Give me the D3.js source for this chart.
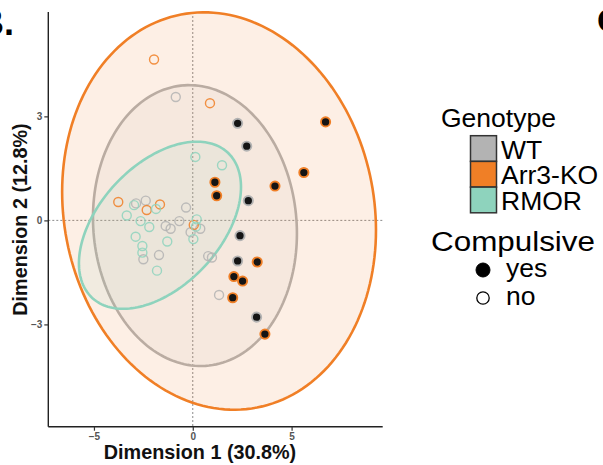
<!DOCTYPE html>
<html><head><meta charset="utf-8">
<script src="https://cdn.jsdelivr.net/npm/d3@7"></script>
<style>
body{margin:0;background:#fff}
svg{display:block}
text{font-family:"Liberation Sans",Arial,Helvetica,sans-serif}
</style>
</head><body>
<svg id="chart" width="603" height="465"></svg>
<script>
// Genotype groups and their colours
const genotypes = ["WT", "Arr3-KO", "RMOR"];
const genotypeColors = ["#B3B3B3", "#F07F26", "#8ED3BD"];
const compulsiveLevels = ["yes", "no"];

// Individual scores on the first two dimensions [Dim1, Dim2]
const wtYes = [[2.27, 2.80], [2.73, 2.14], [2.81, 0.57], [2.39, -0.44], [2.27, -1.17], [3.23, -2.79]];
const koYes = [[6.72, 2.84], [5.62, 1.38], [4.16, 0.99], [1.12, 1.10], [1.21, 0.71],
               [3.26, -1.20], [2.08, -1.62], [2.52, -1.75], [2.02, -2.23], [3.65, -3.28]];
const wtNo = [[-0.86, 3.56], [-2.87, 0.49], [-2.38, 0.57], [-0.34, 0.37], [-0.68, -0.02],
              [-1.37, -0.16], [-1.12, -0.24], [0.38, -0.24], [-0.11, -0.34], [-2.50, -1.12],
              [-1.71, -1.00], [0.78, -1.03], [0.97, -1.07], [1.33, -2.15]];
const koNo = [[-1.96, 4.64], [0.87, 3.38], [-3.77, 0.53], [-2.33, 0.30], [-1.66, 0.46], [0.05, -0.13]];
const rmorNo = [[0.13, 1.83], [1.48, 1.59], [-2.97, 0.44], [-1.86, 0.33], [-3.34, 0.14],
                [-2.64, -0.02], [-2.20, -0.19], [0.20, 0.03], [0.16, -0.18], [0.03, -0.54],
                [-2.89, -0.47], [-1.29, -0.61], [-2.55, -0.74], [-2.55, -0.93], [-1.81, -1.45]];

// Confidence ellipses per genotype (WT, Arr3-KO, RMOR): centre, half-extent on each axis, correlation
const ellipseCenterX = [0.11, 1.33, -1.66];
const ellipseCenterY = [-0.15, 0.27, -0.14];
const ellipseHalfX = [5.16, 7.94, 4.10];
const ellipseHalfY = [4.05, 5.73, 2.41];
const ellipseCorr = [-0.056, -0.096, 0.456];

// Axis ticks
const xTicks = [-5, 0, 5];
const yTicks = [-3, 0, 3];

const svg = d3.select("#chart");
const x = d3.scaleLinear().domain([-7.31, 9.61]).range([48.3, 382.7]);
const y = d3.scaleLinear().domain([-5.95, 6.01]).range([426.7, 12]);

const plot = svg.append("g");

// zero reference lines
plot.append("line").attr("x1", x(0)).attr("x2", x(0)).attr("y1", y.range()[1]).attr("y2", y.range()[0])
  .attr("stroke", "#8a8a8a").attr("stroke-width", 1).attr("stroke-dasharray", "2,2");
plot.append("line").attr("x1", x.range()[0]).attr("x2", x.range()[1]).attr("y1", y(0)).attr("y2", y(0))
  .attr("stroke", "#8a8a8a").attr("stroke-width", 1).attr("stroke-dasharray", "2,2");

// ellipses
const ts = d3.range(0, 361, 2).map(d => d * Math.PI / 180);
const lineGen = d3.line().x(d => x(d[0])).y(d => y(d[1])).curve(d3.curveLinearClosed);
const ellipseFillOpacity = [0.11, 0.12, 0.11];
genotypes.forEach((g, i) => {
  const r = ellipseCorr[i], s = Math.sqrt(1 - r * r);
  const pts = ts.map(t => [
    ellipseCenterX[i] + ellipseHalfX[i] * Math.cos(t),
    ellipseCenterY[i] + ellipseHalfY[i] * (r * Math.cos(t) + s * Math.sin(t))
  ]);
  plot.append("path").attr("d", lineGen(pts))
    .attr("fill", genotypeColors[i]).attr("fill-opacity", ellipseFillOpacity[i])
    .attr("stroke", genotypeColors[i]).attr("stroke-width", 2.6);
});

// open points (not compulsive)
const openSets = [[wtNo, 0], [koNo, 1], [rmorNo, 2]];
openSets.forEach(([set, gi]) => {
  plot.selectAll(null).data(set).enter().append("circle")
    .attr("cx", d => x(d[0])).attr("cy", d => y(d[1])).attr("r", 4.5)
    .attr("fill", "none").attr("stroke", genotypeColors[gi]).attr("stroke-width", 1.4)
    .attr("stroke-opacity", 0.85);
});
// filled points (compulsive)
const filledSets = [[wtYes, 0], [koYes, 1]];
filledSets.forEach(([set, gi]) => {
  plot.selectAll(null).data(set).enter().append("circle")
    .attr("cx", d => x(d[0])).attr("cy", d => y(d[1])).attr("r", 4.6)
    .attr("fill", "#151515").attr("stroke", genotypeColors[gi]).attr("stroke-width", 1.9);
});

// axes
const xAxis = svg.append("g").attr("transform", `translate(0,${y.range()[0]})`)
  .call(d3.axisBottom(x).tickValues(xTicks).tickSize(4).tickPadding(2).tickFormat(d3.format("d")));
const yAxis = svg.append("g").attr("transform", `translate(${x.range()[0]},0)`)
  .call(d3.axisLeft(y).tickValues(yTicks).tickSize(4).tickPadding(2).tickFormat(d3.format("d")));
[xAxis, yAxis].forEach(a => {
  a.select(".domain").attr("stroke", "#222").attr("stroke-width", 1.4);
  a.selectAll(".tick line").attr("stroke", "#333").attr("stroke-width", 1.2);
  a.selectAll(".tick text").attr("fill", "#555").attr("font-size", 10).attr("font-weight", "bold")
    .style("font-family", '"Liberation Sans",Arial,sans-serif');
});
// axis lines span the panel only
xAxis.select(".domain").attr("d", `M${x.range()[0]},0H${x.range()[1]}`);
yAxis.select(".domain").attr("d", `M0,${y.range()[0]}V${y.range()[1]}`);

// axis titles
svg.append("text").attr("x", 200).attr("y", 459).attr("text-anchor", "middle")
  .attr("font-size", 19.8).attr("font-weight", "bold").attr("fill", "#111").text("Dimension 1 (30.8%)");
svg.append("text").attr("transform", `translate(27,219.5) rotate(-90)`).attr("text-anchor", "middle")
  .attr("font-size", 19.8).attr("font-weight", "bold").attr("fill", "#111").text("Dimension 2 (12.8%)");

// panel letters
svg.append("text").attr("x", 14).attr("y", 35).attr("text-anchor", "end")
  .attr("font-size", 36).attr("font-weight", "bold").attr("fill", "#000").text("B.");
svg.append("text").attr("x", 597).attr("y", 32)
  .attr("font-size", 34).attr("font-weight", "bold").attr("fill", "#000").text("C");

// legend: genotype
const leg = svg.append("g");
leg.append("text").attr("x", 441).attr("y", 127).attr("font-size", 26.5).attr("fill", "#000").text("Genotype");
genotypes.forEach((g, i) => {
  const top = 135.7 + i * 25.7;
  leg.append("rect").attr("x", 470.5).attr("y", top).attr("width", 26).attr("height", 25.7)
    .attr("fill", genotypeColors[i]).attr("stroke", "#333").attr("stroke-width", 1.5);
  leg.append("text").attr("x", 501).attr("y", top + 23).attr("font-size", 26.5).attr("fill", "#000").text(g);
});
// legend: compulsive
leg.append("text").attr("x", 431).attr("y", 251).attr("font-size", 27).attr("fill", "#000")
  .attr("textLength", 164).attr("lengthAdjust", "spacingAndGlyphs").text("Compulsive");
compulsiveLevels.forEach((c, i) => {
  const cy = 270 + i * 28;
  leg.append("circle").attr("cx", 483).attr("cy", cy).attr("r", c === "yes" ? 7 : 6.2)
    .attr("fill", c === "yes" ? "#000" : "#fff").attr("stroke", "#000").attr("stroke-width", c === "yes" ? 1 : 1.3);
  leg.append("text").attr("x", 506).attr("y", cy + 7).attr("font-size", 26.5).attr("fill", "#000").text(c);
});
</script>
</body></html>
